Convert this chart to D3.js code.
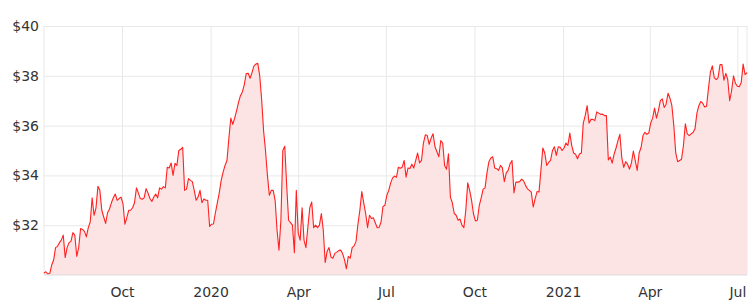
<!DOCTYPE html>
<html>
<head>
<meta charset="utf-8">
<script src="https://cdn.jsdelivr.net/npm/d3@7"></script>
<style>
  body{margin:0;background:#fff;}
  svg{display:block;}
</style>
</head>
<body>
<svg id="chart"></svg>
<script>
// closing price, one reading every 2 days from 12 Jul 2019
let startDate = new Date(2019, 6, 12);
let prices = [
  30.08,30.13,30.04,30.07,30.4,30.6,31.1,31.15,31.3,31.4,31.6,30.7,31.1,31.3,31.35,31.7,31.6,30.75,31.1,31.87,
  31.83,31.75,31.53,31.9,32.13,33.1,32.4,32.7,33.56,33.4,32.6,32.33,32.07,32.5,32.65,32.9,33.1,33.25,33.0,33.07,
  33.13,32.87,32.04,32.3,32.6,32.6,32.7,32.9,33.5,33.3,33.07,33.04,33.1,33.47,33.29,33.07,32.95,33.13,33.25,33.1,
  33.5,33.45,33.55,33.5,34.33,34.3,34.5,34.0,34.48,34.4,35.0,35.05,35.13,33.4,33.45,33.87,33.8,33.75,33.4,33.0,
  33.13,33.4,32.9,33.05,33.0,33.0,31.95,32.04,32.05,32.5,32.9,33.3,33.8,34.13,34.4,34.6,35.5,36.3,36.05,36.3,
  36.6,36.93,37.2,37.35,37.65,38.09,38.1,37.9,38.13,38.4,38.47,38.5,38.0,37.05,35.8,35.0,34.0,33.2,33.4,33.4,
  33.0,31.8,31.0,32.2,35.0,35.17,33.6,32.2,32.1,32.0,30.9,33.4,31.67,31.4,32.7,31.4,31.1,31.93,32.7,32.93,
  31.9,32.0,31.9,32.0,32.47,31.8,30.5,30.95,31.1,30.72,30.67,30.87,30.92,30.98,31.0,30.87,30.62,30.25,30.75,30.68,
  31.1,31.17,31.35,32.05,32.6,33.35,32.9,32.47,31.9,32.4,32.27,32.3,32.1,31.9,31.91,32.13,32.75,32.8,33.2,33.4,
  33.7,33.9,33.97,33.93,34.33,34.29,34.33,34.6,33.93,34.3,34.28,34.45,34.3,34.6,34.9,34.5,34.6,35.3,35.63,35.6,
  35.25,35.5,35.67,35.15,34.95,34.75,35.4,35.3,34.4,34.25,34.87,33.13,32.9,32.47,32.4,32.2,32.25,32.0,31.9,32.6,
  33.7,33.4,33.0,32.45,32.17,32.2,32.8,33.1,33.45,33.5,34.1,34.55,34.7,34.75,34.3,34.27,34.2,34.4,34.3,33.75,
  34.1,34.2,34.47,34.6,33.3,33.73,33.73,33.75,33.85,33.78,33.6,33.46,33.4,33.33,32.73,33.07,33.35,33.33,34.2,35.1,
  34.9,34.4,34.52,34.6,35.0,35.15,34.8,35.15,35.13,35.0,35.1,35.3,35.2,35.7,35.2,34.9,34.85,34.67,34.86,34.9,
  36.1,36.4,36.8,36.1,36.25,36.25,36.2,36.55,36.5,36.45,36.46,36.4,36.4,34.62,34.74,34.49,34.85,35.1,35.4,35.65,
  34.7,34.32,34.55,34.45,34.25,34.5,34.98,34.58,34.2,34.9,35.12,35.6,35.73,35.65,35.7,36.1,36.3,36.7,36.3,36.6,
  37.0,37.07,36.73,36.86,37.3,37.1,36.8,36.0,34.9,34.55,34.6,34.65,35.2,36.07,35.67,35.6,35.67,35.72,35.87,36.5,
  36.8,36.97,36.9,36.75,36.78,37.5,38.15,38.4,37.93,37.85,37.93,38.45,38.45,37.82,38.1,37.85,37.0,37.4,38.0,37.7,
  37.58,37.56,37.73,38.47,38.05,38.13
];
let priceTicks = [32, 34, 36, 38, 40];
let dateTicks = ["2019-10-01","2020-01-01","2020-04-01","2020-07-01","2020-10-01","2021-01-01","2021-04-01","2021-07-01"];
let dateTickLabels = ["Oct","2020","Apr","Jul","Oct","2021","Apr","Jul"];

let data = prices.map(function(p, i){
  return {date: d3.timeDay.offset(startDate, 2*i), value: p};
});

let svgWidth = 754, svgHeight = 305;
let margin = {top:26, right:7, bottom:30, left:44};
let width = svgWidth - margin.left - margin.right;
let height = svgHeight - margin.top - margin.bottom;

let svg = d3.select('#chart')
  .attr('width', svgWidth)
  .attr('height', svgHeight);

let g = svg.append('g')
  .attr('transform', 'translate(' + margin.left + ',' + margin.top + ')');

let x = d3.scaleTime()
  .domain(d3.extent(data, function(d){ return d.date; }))
  .range([0, width]);

let y = d3.scaleLinear()
  .domain([30, 40])
  .range([height, 0]);

let parse = d3.timeParse("%Y-%m-%d");
let tickDates = dateTicks.map(parse);

let styleAxis = function(a){
  a.select('.domain').remove();
  a.attr('font-family', '"DejaVu Sans", sans-serif').attr('font-size', 14);
  a.selectAll('line').attr('stroke', '#e8e8e8');
  a.selectAll('text').attr('fill', '#333');
};

// horizontal grid + price labels
g.append('g')
  .call(d3.axisLeft(y).tickValues(priceTicks).tickSize(-width).tickPadding(5).tickFormat(function(d){ return '$' + d; }))
  .call(styleAxis);

// vertical grid + date labels
g.append('g')
  .attr('transform', 'translate(0,' + height + ')')
  .call(d3.axisBottom(x).tickValues(tickDates).tickSize(-height).tickPadding(12)
    .tickFormat(function(d, i){ return dateTickLabels[i]; }))
  .call(styleAxis);

// side borders
g.append('line').attr('x1', 0).attr('x2', 0).attr('y1', 0).attr('y2', height).attr('stroke', '#e8e8e8');
g.append('line').attr('x1', width).attr('x2', width).attr('y1', 0).attr('y2', height).attr('stroke', '#e8e8e8');

let area = d3.area()
  .x(function(d){ return x(d.date); })
  .y0(height)
  .y1(function(d){ return y(d.value); });

let line = d3.line()
  .x(function(d){ return x(d.date); })
  .y(function(d){ return y(d.value); });

g.append('path')
  .datum(data)
  .attr('fill', '#fde4e4')
  .attr('d', area);

g.append('path')
  .datum(data)
  .attr('fill', 'none')
  .attr('stroke', '#ff2020')
  .attr('stroke-width', 1.1)
  .attr('stroke-linejoin', 'round')
  .attr('d', line);

// bottom axis line
g.append('line').attr('x1', 0).attr('x2', width).attr('y1', height).attr('y2', height).attr('stroke', '#dcdcdc');
</script>
</body>
</html>
